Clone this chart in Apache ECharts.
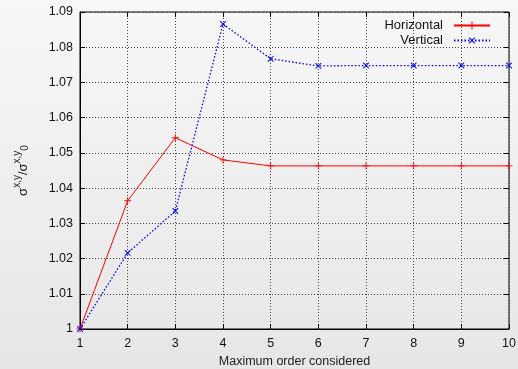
<!DOCTYPE html>
<html><head><meta charset="utf-8">
<script src="https://cdn.jsdelivr.net/npm/echarts@6/dist/echarts.min.js"></script>
<style>html,body{margin:0;padding:0;}#c{width:518px;height:369px;}</style>
</head><body><div id="c"></div>
<script>
var orders = [1, 2, 3, 4, 5, 6, 7, 8, 9, 10];
var horizontal = [1.0, 1.0364, 1.0543, 1.0480, 1.0463, 1.0463, 1.0463, 1.0463, 1.0463, 1.0463];
var vertical = [1.0, 1.0216, 1.0335, 1.0866, 1.0767, 1.0747, 1.0748, 1.0748, 1.0748, 1.0748];
var seriesNames = ['Horizontal', 'Vertical'];

function pairs(xs, ys) { return xs.map(function (x, i) { return [x, ys[i]]; }); }
var plus = 'path://M0,4.4L10,4.4L10,5.6L0,5.6Z M4.4,0L5.6,0L5.6,10L4.4,10Z';
var font = 'Liberation Sans, Arial, sans-serif';
var chart = echarts.init(document.getElementById('c'));
var tickStyle = { show: true, inside: true, length: 5, lineStyle: { color: '#000' } };
var gridLine = { show: true, lineStyle: { color: '#444', type: [1, 2], width: 1 } };
chart.setOption({
  backgroundColor: new echarts.graphic.LinearGradient(0, 0, 0, 1, [
    { offset: 0, color: '#f7f7f7' }, { offset: 1, color: '#e6e6e6' }]),
  animation: false,
  grid: { left: 80, right: 9, top: 12, bottom: 40, show: true, borderColor: '#000', borderWidth: 1,
    containLabel: false, outerBoundsMode: 'none' },
  legend: {
    right: 22, top: 14, orient: 'vertical', align: 'right', itemGap: 2,
    itemWidth: 36, itemHeight: 10,
    textStyle: { fontFamily: font, fontSize: 13, color: '#111', padding: [0, 6, 0, 0] },
    data: seriesNames
  },
  xAxis: [{
    type: 'value', min: 1, max: 10, interval: 1,
    name: 'Maximum order considered', nameLocation: 'middle', nameGap: 26,
    nameTextStyle: { fontFamily: font, fontSize: 12.5, color: '#222' },
    axisLine: { show: true, lineStyle: { color: '#000' } },
    axisTick: tickStyle, splitLine: gridLine,
    axisLabel: { fontFamily: font, fontSize: 12.5, color: '#111', margin: 8 }
  }, {
    type: 'value', min: 1, max: 10, interval: 1, position: 'top',
    axisLine: { show: false }, axisTick: tickStyle, axisLabel: { show: false }, splitLine: { show: false }
  }],
  yAxis: [{
    type: 'value', min: 1, max: 1.09, interval: 0.01,
    name: '{a|σ}{sup|x,y}{a|/σ}{sup|x,y}{sub|0}', nameLocation: 'middle', nameGap: 50, nameRotate: 90,
    nameTextStyle: {
      fontFamily: font, color: '#222',
      rich: {
        a: { fontSize: 13, fontFamily: font, color: '#222', verticalAlign: 'bottom', lineHeight: 18 },
        sup: { fontSize: 10, fontFamily: font, color: '#222', verticalAlign: 'top', lineHeight: 18 },
        sub: { fontSize: 10, fontFamily: font, color: '#222', verticalAlign: 'bottom', lineHeight: 14 }
      }
    },
    axisLine: { show: true, lineStyle: { color: '#000' } },
    axisTick: tickStyle, splitLine: gridLine,
    axisLabel: { fontFamily: font, fontSize: 12.5, color: '#111', margin: 7,
      formatter: function (v) { return String(parseFloat(v.toFixed(2))); } }
  }, {
    type: 'value', min: 1, max: 1.09, interval: 0.01, position: 'right',
    axisLine: { show: false }, axisTick: tickStyle, axisLabel: { show: false }, splitLine: { show: false }
  }],
  series: [{
    name: seriesNames[0], type: 'line', data: pairs(orders, horizontal),
    symbol: plus, symbolSize: 7, showSymbol: true,
    lineStyle: { color: '#ff0000', width: 1 }, itemStyle: { color: '#ff0000' }
  }, {
    name: seriesNames[1], type: 'line', data: pairs(orders, vertical),
    symbol: plus, symbolSize: 8, symbolRotate: 45, showSymbol: true,
    lineStyle: { color: '#0000ff', width: 1.3, type: [1.5, 2] }, itemStyle: { color: '#0000ff' }
  }]
});
</script></body></html>
